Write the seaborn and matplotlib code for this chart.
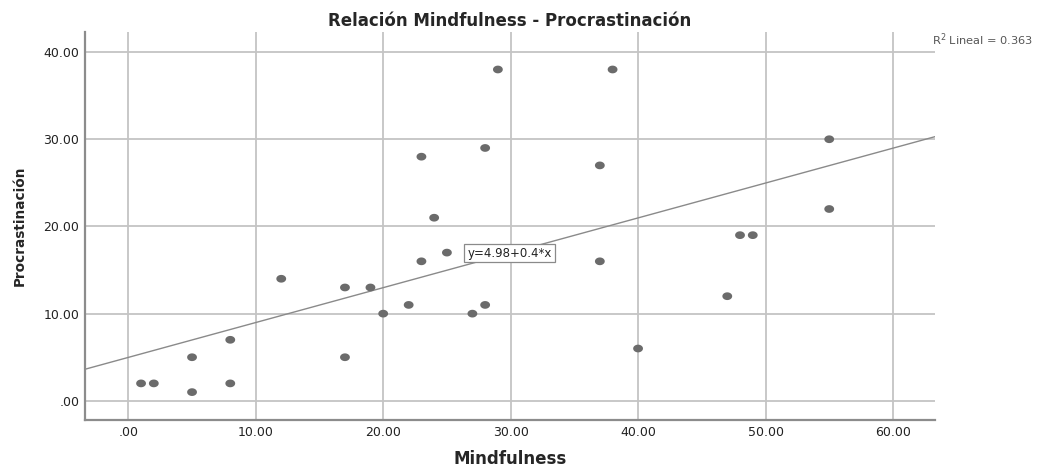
import numpy as np
import pandas as pd
import matplotlib
matplotlib.use("Agg")
import matplotlib.pyplot as plt
from matplotlib.path import Path
import seaborn as sns

# Data
mindfulness = [1, 2, 5, 5, 8, 8, 12, 17, 17, 19, 20, 22, 23, 23, 24, 25, 27, 28, 28, 29,
               37, 37, 38, 40, 47, 48, 49, 55, 55]
procrastinacion = [2, 2, 5, 1, 7, 2, 14, 13, 5, 13, 10, 11, 16, 28, 21, 17, 10, 11, 29, 38,
                   27, 16, 38, 6, 12, 19, 19, 30, 22]
x_ticks = [0, 10, 20, 30, 40, 50, 60]
y_ticks = [0, 10, 20, 30, 40]
tick_fmt = lambda v: ".00" if v == 0 else f"{v:.2f}"

df = pd.DataFrame({"Mindfulness": mindfulness, "Procrastinación": procrastinacion})

sns.set_theme(style="white")
plt.rcParams["font.family"] = ["DejaVu Sans"]

fig = plt.figure(figsize=(10.39, 4.67), dpi=100)
ax = fig.add_axes([0.0818, 0.1006, 0.8181, 0.8309])

xlim = (-3.4, 63.3)
ylim = (-2.2, 42.3)
ax.set_xlim(*xlim)
ax.set_ylim(*ylim)

ax.grid(True, color="#c4c4c4", linewidth=1.3)
ax.set_axisbelow(True)

sns.regplot(data=df, x="Mindfulness", y="Procrastinación", ax=ax, scatter=False,
            ci=None, truncate=False, line_kws={"color": "#8a8a8a", "linewidth": 1.0, "zorder": 2})

# slightly wide elliptical marker, like the reference
t = np.linspace(0, 2 * np.pi, 40)
ellipse = Path(np.column_stack([1.27 * np.cos(t), np.sin(t)]), closed=True)
sns.scatterplot(data=df, x="Mindfulness", y="Procrastinación", ax=ax, color="#6b6b6b",
                marker=ellipse, s=50, edgecolor="none", zorder=3)

ax.set_xlim(*xlim)
ax.set_ylim(*ylim)
ax.set_xticks(x_ticks)
ax.set_yticks(y_ticks)
ax.set_xticklabels([tick_fmt(v) for v in x_ticks], fontsize=9, color="#222222")
ax.set_yticklabels([tick_fmt(v) for v in y_ticks], fontsize=9, color="#222222")
ax.tick_params(length=0, pad=4)

for s in ["top", "right"]:
    ax.spines[s].set_visible(False)
for s in ["left", "bottom"]:
    ax.spines[s].set_color("#8c8c8c")
    ax.spines[s].set_linewidth(1.6)

ax.set_xlabel("Mindfulness", fontsize=12, fontweight="bold", labelpad=8)
ax.set_ylabel("Procrastinación", fontsize=9.8, fontweight="bold", labelpad=12)
ax.set_title("Relación Mindfulness - Procrastinación", fontsize=12, fontweight="bold", pad=4)

# Linear fit for annotations
b, a = np.polyfit(mindfulness, procrastinacion, 1)
r2 = np.corrcoef(mindfulness, procrastinacion)[0, 1] ** 2
ax.text(26.6, 16.95, f"y={round(a, 2):g}+{round(b, 2):g}*x", fontsize=8.5, va="center", ha="left",
        color="#222222", zorder=5,
        bbox=dict(boxstyle="square,pad=0.25", facecolor="white", edgecolor="#8a8a8a", linewidth=0.9))
fig.text(0.897, 0.915, f"R$^2$ Lineal = {r2:.3f}", fontsize=8.2, color="#555555", ha="left", va="center")

fig.savefig("out.png", dpi=100, facecolor="white")
